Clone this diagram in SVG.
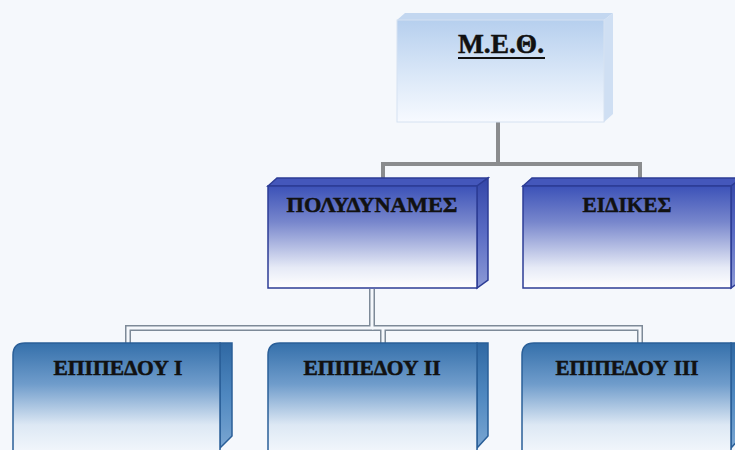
<svg xmlns="http://www.w3.org/2000/svg" width="735" height="450" viewBox="0 0 735 450">
  <defs>
    <linearGradient id="gTop" x1="0" y1="0" x2="0" y2="1">
      <stop offset="0" stop-color="#b6cfee"/>
      <stop offset="0.55" stop-color="#dbe8f8"/>
      <stop offset="1" stop-color="#f7faff"/>
    </linearGradient>
    <linearGradient id="gMid" x1="0" y1="0" x2="0" y2="1">
      <stop offset="0" stop-color="#3c52b8"/>
      <stop offset="0.35" stop-color="#7786cc"/>
      <stop offset="0.8" stop-color="#e6eaf6"/>
      <stop offset="1" stop-color="#ffffff"/>
    </linearGradient>
    <linearGradient id="gMidSide" x1="0" y1="0" x2="0" y2="1">
      <stop offset="0" stop-color="#3346a8"/>
      <stop offset="0.5" stop-color="#5a6cc4"/>
      <stop offset="1" stop-color="#8c9ad6"/>
    </linearGradient>
    <linearGradient id="gBot" x1="0" y1="0" x2="0" y2="1">
      <stop offset="0" stop-color="#3570ab"/>
      <stop offset="0.35" stop-color="#6f9ccb"/>
      <stop offset="0.7" stop-color="#dde8f4"/>
      <stop offset="1" stop-color="#f8fbfe"/>
    </linearGradient>
    <linearGradient id="gBotSide" x1="0" y1="0" x2="0" y2="1">
      <stop offset="0" stop-color="#2f68a3"/>
      <stop offset="0.5" stop-color="#4f88c0"/>
      <stop offset="1" stop-color="#7aa6d2"/>
    </linearGradient>
    <style>
      .lbl { font-family: "Liberation Serif", "DejaVu Serif", serif; font-weight: bold; fill: #111; text-anchor: middle; stroke: #111; stroke-width: 0.5; }
      .midEdge { stroke: #2c3c95; stroke-width: 1.5; }
      .botEdge { stroke: #2a5f98; stroke-width: 1.5; }
      .conTop { fill: none; stroke: #8a8c8e; stroke-width: 4; }
      .conOut { fill: none; stroke: #7d8a98; stroke-width: 6; }
      .conIn { fill: none; stroke: #f5f8fc; stroke-width: 3; }
    </style>
  </defs>

  <rect x="0" y="0" width="735" height="450" fill="#f5f8fc"/>

  <g id="connectors">
    <polyline class="conTop" points="498,122 498,164 383,164 383,180"/>
    <polyline class="conTop" points="498,164 640,164 640,180"/>
    <polyline class="conOut" points="372,289 372,328 128,328 128,343"/>
    <polyline class="conOut" points="372,328 640,328 640,343"/>
    <polyline class="conOut" points="383,328 383,343"/>
    <polyline class="conIn" points="372,289 372,328 128,328 128,343"/>
    <polyline class="conIn" points="372,328 640,328 640,343"/>
    <polyline class="conIn" points="383,328 383,343"/>
  </g>

  <g id="node-meth">
    <polygon points="397,20 405,13 613,13 604,20" fill="#c3d7f0"/>
    <polygon points="604,20 613,13 613,114 604,122" fill="#cfdff3"/>
    <rect x="397" y="20" width="207" height="102" fill="url(#gTop)" stroke="#d6e2f1" stroke-width="1"/>
    <text class="lbl" x="501" y="53" font-size="28" textLength="86" lengthAdjust="spacingAndGlyphs">Μ.Ε.Θ.</text>
    <line x1="458" y1="58" x2="545" y2="58" stroke="#111" stroke-width="2"/>
  </g>

  <g id="node-polydynames">
    <polygon class="midEdge" points="268,186 277,178 488,178 477,186" fill="#4457bb"/>
    <polygon class="midEdge" points="477,186 488,178 488,280 477,288" fill="url(#gMidSide)"/>
    <rect class="midEdge" x="268" y="186" width="209" height="102" fill="url(#gMid)"/>
    <text class="lbl" x="372" y="212" font-size="22" textLength="171" lengthAdjust="spacingAndGlyphs">ΠΟΛΥΔΥΝΑΜΕΣ</text>
  </g>

  <g id="node-eidikes">
    <polygon class="midEdge" points="523,186 532,178 742,178 731,186" fill="#4457bb"/>
    <polygon class="midEdge" points="731,186 742,178 742,280 731,288" fill="url(#gMidSide)"/>
    <rect class="midEdge" x="523" y="186" width="208" height="102" fill="url(#gMid)"/>
    <text class="lbl" x="627" y="212" font-size="22" textLength="89" lengthAdjust="spacingAndGlyphs">ΕΙΔΙΚΕΣ</text>
  </g>

  <g id="node-epipedou-1">
    <polygon class="botEdge" points="220,343 232,343 232,436 220,448" fill="url(#gBotSide)"/>
    <path class="botEdge" d="M13,460 L13,355 Q13,343 25,343 L220,343 L220,460 Z" fill="url(#gBot)"/>
    <text class="lbl" x="118" y="375" font-size="20" textLength="129" lengthAdjust="spacingAndGlyphs">ΕΠΙΠΕΔΟΥ Ι</text>
  </g>

  <g id="node-epipedou-2">
    <polygon class="botEdge" points="477,343 488,343 488,436 477,448" fill="url(#gBotSide)"/>
    <path class="botEdge" d="M268,460 L268,355 Q268,343 280,343 L477,343 L477,460 Z" fill="url(#gBot)"/>
    <text class="lbl" x="372" y="375" font-size="20" textLength="137" lengthAdjust="spacingAndGlyphs">ΕΠΙΠΕΔΟΥ ΙΙ</text>
  </g>

  <g id="node-epipedou-3">
    <polygon class="botEdge" points="731,343 742,343 742,436 731,448" fill="url(#gBotSide)"/>
    <path class="botEdge" d="M522,460 L522,355 Q522,343 534,343 L731,343 L731,460 Z" fill="url(#gBot)"/>
    <text class="lbl" x="627" y="375" font-size="20" textLength="143" lengthAdjust="spacingAndGlyphs">ΕΠΙΠΕΔΟΥ ΙΙΙ</text>
  </g>
</svg>
